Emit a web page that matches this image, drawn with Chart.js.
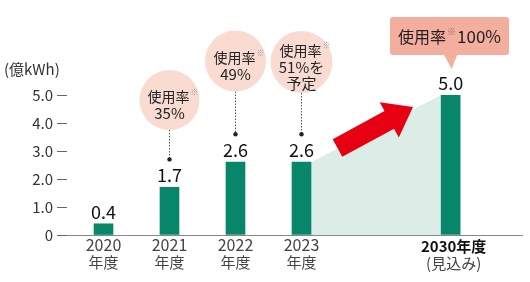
<!DOCTYPE html>
<html><head><meta charset="utf-8">
<script src="https://cdn.jsdelivr.net/npm/chart.js@4/dist/chart.umd.min.js"></script>
<style>html,body{margin:0;padding:0;background:#fff}#wrap{width:530px;height:282px}</style>
</head><body><div id="wrap"><canvas id="c" width="530" height="282"></canvas></div>
<script>
const years = ['2020', '2021', '2022', '2023', '2030'];
const yearSuffix = '年度';
const subLabels = ['', '', '', '', '(見込み)'];
const values = [0.4, 1.7, 2.6, 2.6, 5.0];
const valueLabels = ['0.4', '1.7', '2.6', '2.6', '5.0'];
const usageBubbles = [null, ['35%'], ['49%'], ['51%を', '予定'], null];
const targetRate = '100%';
const usageWord = '使用率';
const noteMark = '※';
const yTickValues = [0, 1, 2, 3, 4, 5];
const unitLabel = '(億kWh)';

const FONT = '"Noto Sans CJK JP", "Noto Sans", sans-serif';
const GREEN = '#078669';
const slot = i => (i < 4 ? i : 5.26);

const decor = {
  id: 'decor',
  beforeDatasetsDraw(chart) {
    const ctx = chart.ctx;
    const bars = chart.getDatasetMeta(0).data;
    const y0 = chart.scales.y.getPixelForValue(0);
    const a = bars[3], b = bars[4];
    ctx.save();
    ctx.fillStyle = '#dcede8';
    ctx.beginPath();
    ctx.moveTo(a.x + a.width / 2, a.y);
    ctx.lineTo(b.x - b.width / 2, b.y);
    ctx.lineTo(b.x - b.width / 2, y0);
    ctx.lineTo(a.x + a.width / 2, y0);
    ctx.closePath();
    ctx.fill();
    // arrow
    const tx = 337.5, ty = 148, hx = 413, hy = 107;
    const L = Math.hypot(hx - tx, hy - ty);
    ctx.translate(tx, ty);
    ctx.rotate(Math.atan2(hy - ty, hx - tx));
    ctx.fillStyle = '#e60012';
    ctx.beginPath();
    ctx.moveTo(0, -10); ctx.lineTo(L - 27, -10); ctx.lineTo(L - 27, -20);
    ctx.lineTo(L, 0); ctx.lineTo(L - 27, 20); ctx.lineTo(L - 27, 10);
    ctx.lineTo(0, 10); ctx.closePath(); ctx.fill();
    ctx.restore();
  },
  afterDraw(chart) {
    const ctx = chart.ctx;
    const bars = chart.getDatasetMeta(0).data;
    ctx.save();
    // value labels
    ctx.fillStyle = '#111';
    ctx.font = '18px ' + FONT;
    ctx.textAlign = 'center';
    ctx.textBaseline = 'alphabetic';
    bars.forEach((bar, i) => ctx.fillText(valueLabels[i], bar.x, bar.y - 5));

    // bubbles
    const bubbleGeo = [null, {cy: 100, r: 30}, {cy: 61, r: 30.5}, {cy: 62, r: 31}];
    usageBubbles.forEach((lines, i) => {
      if (!lines) return;
      const g = bubbleGeo[i];
      const cx = bars[i].x;
      const dotY = bars[i].y - 28;
      ctx.strokeStyle = '#555';
      ctx.lineWidth = 1;
      ctx.setLineDash([1.5, 1.5]);
      ctx.beginPath();
      ctx.moveTo(Math.round(cx) + 0.5, g.cy + g.r);
      ctx.lineTo(Math.round(cx) + 0.5, dotY);
      ctx.stroke();
      ctx.setLineDash([]);
      ctx.fillStyle = '#222';
      ctx.beginPath(); ctx.arc(cx, dotY, 2.2, 0, Math.PI * 2); ctx.fill();
      ctx.fillStyle = '#f9dbd2';
      ctx.beginPath(); ctx.arc(cx, g.cy, g.r, 0, Math.PI * 2); ctx.fill();
      const all = [usageWord].concat(lines);
      const lh = 16.6;
      const startY = g.cy + 5 - (all.length - 1) * lh / 2;
      ctx.textBaseline = 'middle';
      ctx.fillStyle = '#222';
      all.forEach((t, k) => {
        ctx.textAlign = 'center';
        if (k === 0) {
          ctx.font = '14px ' + FONT;
          const w = ctx.measureText(t).width;
          ctx.fillText(t, cx - 1, startY);
          ctx.font = '8px ' + FONT;
          ctx.fillStyle = '#999';
          ctx.textAlign = 'left';
          ctx.fillText(noteMark, cx - 1 + w / 2 + 1, startY - 5);
          ctx.fillStyle = '#222';
        } else {
          ctx.font = '15px ' + FONT;
          ctx.fillText(t, cx, startY + k * lh);
        }
      });
    });

    // callout box for 2030
    const bx = bars[4].x;
    const left = 390, right = 509, top = 17, bottom = 55, rr = 3;
    ctx.fillStyle = '#f4ae9e';
    ctx.beginPath();
    ctx.moveTo(left + rr, top);
    ctx.lineTo(right - rr, top); ctx.quadraticCurveTo(right, top, right, top + rr);
    ctx.lineTo(right, bottom - rr); ctx.quadraticCurveTo(right, bottom, right - rr, bottom);
    ctx.lineTo(bx + 6.5, bottom); ctx.lineTo(bx + 1, 69); ctx.lineTo(bx - 6.5, bottom);
    ctx.lineTo(left + rr, bottom); ctx.quadraticCurveTo(left, bottom, left, bottom - rr);
    ctx.lineTo(left, top + rr); ctx.quadraticCurveTo(left, top, left + rr, top);
    ctx.closePath(); ctx.fill();
    ctx.fillStyle = '#222';
    ctx.textBaseline = 'middle';
    ctx.textAlign = 'left';
    ctx.font = '16px ' + FONT;
    const w1 = ctx.measureText(usageWord).width;
    ctx.font = '9px ' + FONT;
    const w2 = ctx.measureText(noteMark).width;
    ctx.font = '17px ' + FONT;
    const w3 = ctx.measureText(targetRate).width;
    let x = (left + right) / 2 - (w1 + w2 + 2 + w3) / 2;
    const ty = 37;
    ctx.font = '16px ' + FONT;
    ctx.fillText(usageWord, x, ty);
    ctx.font = '9px ' + FONT; ctx.fillStyle = '#a66';
    ctx.fillText(noteMark, x + w1 + 1, ty - 5);
    ctx.font = '17px ' + FONT; ctx.fillStyle = '#222';
    ctx.fillText(targetRate, x + w1 + w2 + 2, ty);

    // x labels
    ctx.textAlign = 'center';
    bars.forEach((bar, i) => {
      if (i < 4) {
        ctx.font = '16px ' + FONT; ctx.fillStyle = '#444';
        ctx.fillText(years[i], bar.x, 245);
        ctx.font = '15px ' + FONT;
        ctx.fillText(yearSuffix, bar.x, 262);
      } else {
        ctx.font = 'bold 15px ' + FONT; ctx.fillStyle = '#111';
        ctx.fillText(years[i] + yearSuffix, bar.x + 3, 246);
        ctx.font = '15px ' + FONT; ctx.fillStyle = '#444';
        ctx.fillText(subLabels[i], bar.x + 3, 263);
      }
    });

    // unit label
    ctx.textAlign = 'left';
    ctx.font = '15px ' + FONT; ctx.fillStyle = '#333';
    ctx.fillText(unitLabel, 4, 69);
    ctx.restore();
  }
};

new Chart(document.getElementById('c'), {
  type: 'bar',
  data: {
    datasets: [{
      data: values.map((v, i) => ({x: slot(i), y: v})),
      backgroundColor: GREEN,
      barThickness: 19
    }]
  },
  options: {
    responsive: false,
    animation: false,
    devicePixelRatio: 1,
    layout: {padding: {top: 95, right: 8, bottom: 47, left: 0}},
    plugins: {legend: {display: false}, tooltip: {enabled: false}},
    scales: {
      x: {
        type: 'linear', min: -0.553, max: 6.341, offset: false,
        grid: {display: false, drawTicks: false},
        ticks: {display: false},
        border: {display: true, color: '#888', width: 1}
      },
      y: {
        min: 0, max: 5,
        afterBuildTicks: s => { s.ticks = yTickValues.map(v => ({value: v})); },
        afterFit: s => { s.width = 67; },
        ticks: {
          callback: v => (v === 0 ? '0' : v.toFixed(1)),
          font: {family: FONT, size: 15}, color: '#333', padding: 4
        },
        grid: {drawOnChartArea: false, tickLength: 10, color: '#666', lineWidth: 1},
        border: {display: false}
      }
    }
  },
  plugins: [decor]
});
</script></body></html>
